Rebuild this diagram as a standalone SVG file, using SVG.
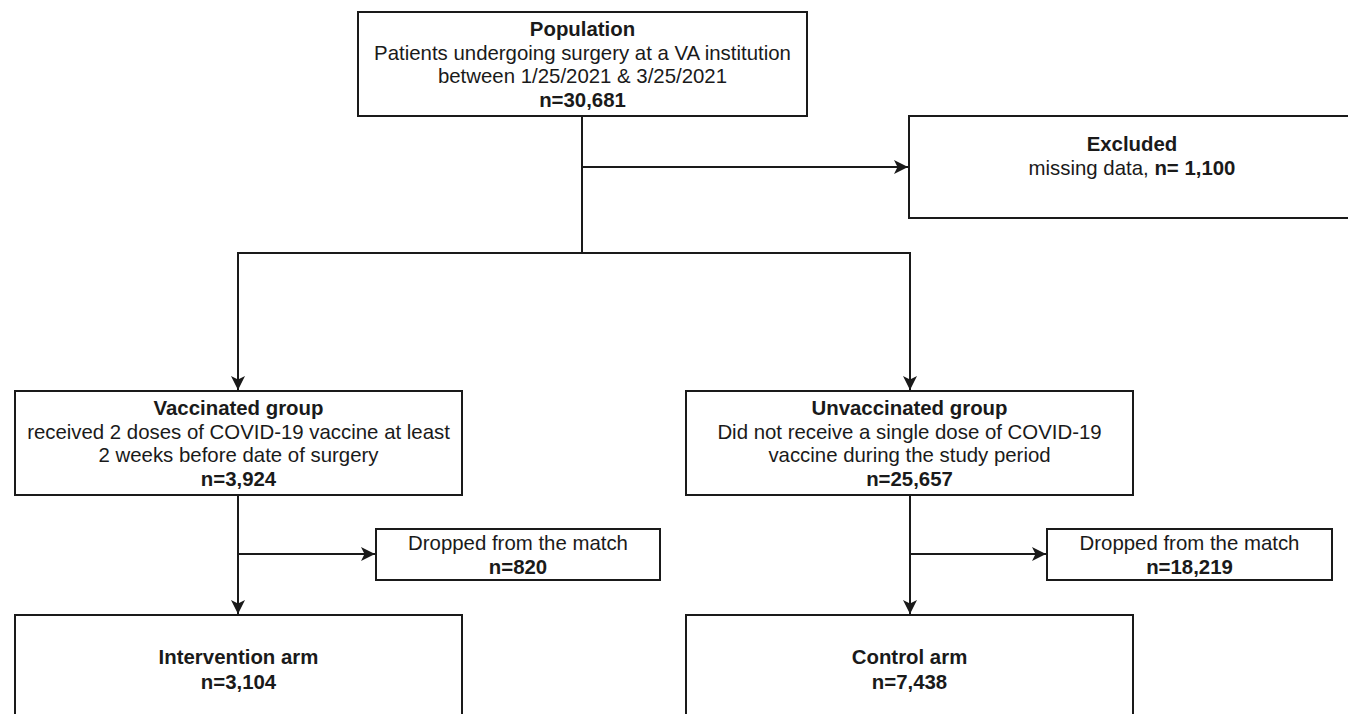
<svg xmlns="http://www.w3.org/2000/svg" width="1348" height="714" viewBox="0 0 1348 714">
  <style>
    .box { fill: #ffffff; stroke: #1a1a1a; stroke-width: 2; }
    .t { font-family: "Liberation Sans", Arial, sans-serif; font-size: 20.4px; fill: #1a1a1a; text-anchor: middle; }
    .b { font-weight: bold; }
    .conn { fill: none; stroke: #1a1a1a; stroke-width: 2; }
  </style>
  <defs>
    <marker id="arrow" markerUnits="userSpaceOnUse" markerWidth="16" markerHeight="16" viewBox="0 0 16 16" refX="14" refY="8" orient="auto">
      <path d="M0,1 L14,8 L0,15 L3.5,8 Z" fill="#1a1a1a"/>
    </marker>
  </defs>
  <rect width="1348" height="714" fill="#ffffff"/>

  <g id="connectors">
    <path class="conn" d="M582,117 V253"/>
    <path class="conn" d="M582,167 H908" marker-end="url(#arrow)"/>
    <path class="conn" d="M582,253 H238 V390" marker-end="url(#arrow)"/>
    <path class="conn" d="M582,253 H910 V390" marker-end="url(#arrow)"/>
    <path class="conn" d="M238,496 V614" marker-end="url(#arrow)"/>
    <path class="conn" d="M238,554 H375" marker-end="url(#arrow)"/>
    <path class="conn" d="M910,496 V614" marker-end="url(#arrow)"/>
    <path class="conn" d="M910,554 H1046" marker-end="url(#arrow)"/>
  </g>

  <g id="population">
    <rect class="box" x="358" y="12" width="449" height="104"/>
    <text class="t b" x="582.5" y="36">Population</text>
    <text class="t" x="582.5" y="60">Patients undergoing surgery at a VA institution</text>
    <text class="t" x="582.5" y="83">between 1/25/2021 &amp; 3/25/2021</text>
    <text class="t b" x="582.5" y="107">n=30,681</text>
  </g>

  <g id="excluded">
    <rect class="box" x="909" y="116" width="450" height="102"/>
    <text class="t b" x="1132" y="151">Excluded</text>
    <text class="t" x="1132" y="175">missing data, <tspan class="b">n= 1,100</tspan></text>
  </g>

  <g id="vaccinated">
    <rect class="box" x="15" y="391" width="447" height="104"/>
    <text class="t b" x="238.5" y="415">Vaccinated group</text>
    <text class="t" x="238.5" y="439">received 2 doses of COVID-19 vaccine at least</text>
    <text class="t" x="238.5" y="462">2 weeks before date of surgery</text>
    <text class="t b" x="238.5" y="486">n=3,924</text>
  </g>

  <g id="unvaccinated">
    <rect class="box" x="686" y="391" width="447" height="104"/>
    <text class="t b" x="909.5" y="415">Unvaccinated group</text>
    <text class="t" x="909.5" y="439">Did not receive a single dose of COVID-19</text>
    <text class="t" x="909.5" y="462">vaccine during the study period</text>
    <text class="t b" x="909.5" y="486">n=25,657</text>
  </g>

  <g id="dropped-vaccinated">
    <rect class="box" x="376" y="529" width="284" height="51"/>
    <text class="t" x="518" y="550">Dropped from the match</text>
    <text class="t b" x="518" y="574">n=820</text>
  </g>

  <g id="dropped-unvaccinated">
    <rect class="box" x="1047" y="529" width="285" height="51"/>
    <text class="t" x="1189.5" y="550">Dropped from the match</text>
    <text class="t b" x="1189.5" y="574">n=18,219</text>
  </g>

  <g id="intervention">
    <rect class="box" x="15" y="615" width="447" height="110"/>
    <text class="t b" x="238.5" y="664">Intervention arm</text>
    <text class="t b" x="238.5" y="689">n=3,104</text>
  </g>

  <g id="control">
    <rect class="box" x="686" y="615" width="447" height="110"/>
    <text class="t b" x="909.5" y="664">Control arm</text>
    <text class="t b" x="909.5" y="689">n=7,438</text>
  </g>
</svg>
